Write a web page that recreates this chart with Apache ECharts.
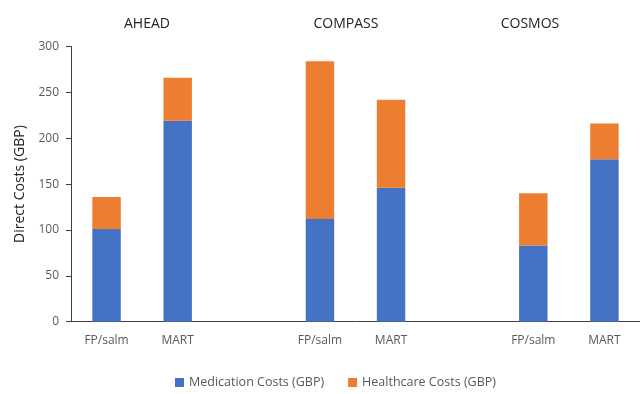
<!DOCTYPE html>
<html>
<head>
<meta charset="utf-8">
<script src="https://cdn.jsdelivr.net/npm/echarts@6/dist/echarts.min.js"></script>
<style>
  html, body { margin: 0; padding: 0; background: #fff; }
  #chart { width: 640px; height: 394px; }
</style>
</head>
<body>
<div id="chart"></div>
<script>
// Treatment arms per trial; blank slots separate the three trials
const categories = ['FP/salm', 'MART', '', 'FP/salm', 'MART', '', 'FP/salm', 'MART'];
const trials = ['AHEAD', 'COMPASS', 'COSMOS'];
const medicationCosts = [101, 219, null, 112, 146, null, 83, 177];
const healthcareCosts = [35, 47, null, 172, 96, null, 57, 39];
const yTicks = { min: 0, max: 300, step: 50 };

const font = '"Open Sans", "Liberation Sans", sans-serif';
const chart = echarts.init(document.getElementById('chart'), null, { renderer: 'canvas' });

// Trial names above each pair of bars
const trialTitleX = [142, 341, 525];

chart.setOption({
  animation: false,
  backgroundColor: '#ffffff',
  title: trials.map((t, i) => ({
    text: t,
    left: trialTitleX[i],
    top: 12,
    textAlign: 'center',
    textStyle: { fontFamily: font, fontSize: 14, fontWeight: 'normal', color: '#222' }
  })),
  grid: { left: 71, right: -2, top: 46.5, bottom: 72.3, containLabel: false },
  legend: {
    bottom: 0,
    left: 170,
    itemWidth: 9,
    itemHeight: 9,
    itemGap: 24,
    icon: 'rect',
    textStyle: { fontFamily: font, fontSize: 12.5, color: '#595959' },
    data: ['Medication Costs (GBP)', 'Healthcare Costs (GBP)']
  },
  xAxis: {
    type: 'category',
    data: categories,
    axisTick: { show: false },
    axisLine: { lineStyle: { color: '#404040', width: 1 } },
    axisLabel: { fontFamily: font, fontSize: 12, color: '#595959', margin: 13, interval: 0 }
  },
  yAxis: {
    type: 'value',
    min: yTicks.min,
    max: yTicks.max,
    interval: yTicks.step,
    name: 'Direct Costs (GBP)',
    nameLocation: 'middle',
    nameGap: 44,
    nameTextStyle: { fontFamily: font, fontSize: 14, color: '#222' },
    splitLine: { show: false },
    axisLine: { show: true, lineStyle: { color: '#404040', width: 1 } },
    axisTick: { show: true, length: 5, lineStyle: { color: '#404040' } },
    axisLabel: { fontFamily: font, fontSize: 12, color: '#595959', margin: 12 }
  },
  series: [
    {
      name: 'Medication Costs (GBP)',
      type: 'bar',
      stack: 'cost',
      barWidth: '40%',
      itemStyle: { color: '#4472C4' },
      data: medicationCosts
    },
    {
      name: 'Healthcare Costs (GBP)',
      type: 'bar',
      stack: 'cost',
      barWidth: '40%',
      itemStyle: { color: '#ED7D31' },
      data: healthcareCosts
    }
  ]
});
</script>
</body>
</html>
